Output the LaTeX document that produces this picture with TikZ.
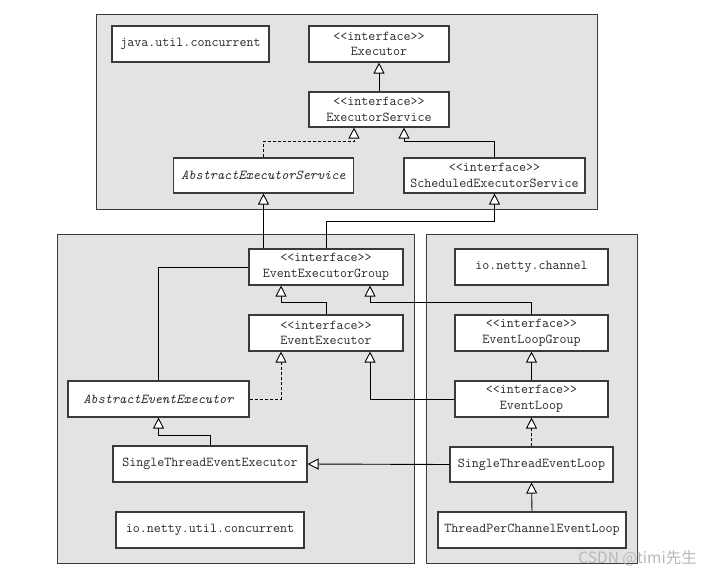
\documentclass[tikz,border=0pt]{standalone}
\usepackage{fontspec}
\newfontfamily\umlfont{Latin Modern Mono}
\newfontfamily\cjk{Noto Sans CJK SC}
\usetikzlibrary{arrows.meta,calc}
\definecolor{panelgray}{HTML}{E3E3E3}
\definecolor{boxline}{HTML}{3A3A3A}
\definecolor{txt}{HTML}{2A2A2A}
\tikzset{
  panel/.style={draw=boxline, line width=0.9pt, fill=panelgray},
  cls/.style={draw=boxline, line width=1.1pt, fill=white, inner sep=0pt,
    align=center, font=\umlfont\fontsize{13.6}{15.5}\selectfont, text=txt, minimum height=36pt},
  link/.style={line width=0.9pt, draw=black},
  inh/.style={link, -{Triangle[open, length=11pt, width=11pt, fill=white, line width=0.9pt]}},
  impl/.style={inh, dash pattern=on 3pt off 2pt},
}
\begin{document}
\begin{tikzpicture}[x=1pt, y=-1pt]
\useasboundingbox (0,0) rectangle (712,576);
% panels
\draw[panel] (96,14) rectangle (597,209);
\draw[panel] (57,234) rectangle (414,563);
\draw[panel] (426,234) rectangle (637,563);
% top panel
\node[cls, minimum width=157pt] (juc) at (190.5,44) {java.util.concurrent};
\node[cls, minimum width=140pt] (exec) at (379,44) {<<interface>>\\Executor};
\node[cls, minimum width=140pt, minimum height=35pt] (es) at (379,109.5) {<<interface>>\\ExecutorService};
\node[cls, minimum width=180pt, minimum height=35pt] (aes) at (263.5,175.5) {\itshape AbstractExecutorService};
\node[cls, minimum width=181pt, minimum height=35pt] (ses) at (494.5,175.5) {<<interface>>\\ScheduledExecutorService};
% left panel
\node[cls, minimum width=154pt] (eeg) at (326,267) {<<interface>>\\EventExecutorGroup};
\node[cls, minimum width=154pt] (ee) at (326,333) {<<interface>>\\EventExecutor};
\node[cls, minimum width=181pt] (aee) at (158.5,399) {\itshape AbstractEventExecutor};
\node[cls, minimum width=194pt] (stee) at (210,464) {SingleThreadEventExecutor};
\node[cls, minimum width=188pt] (inuc) at (210,530) {io.netty.util.concurrent};
% right panel
\node[cls, minimum width=153pt] (inc) at (531.5,267) {io.netty.channel};
\node[cls, minimum width=153pt] (elg) at (531.5,333) {<<interface>>\\EventLoopGroup};
\node[cls, minimum width=153pt] (el) at (531.5,399) {<<interface>>\\EventLoop};
\node[cls, minimum width=163pt, minimum height=35pt] (stel) at (531.5,464.5) {SingleThreadEventLoop};
\node[cls, minimum width=188pt] (tpcel) at (532,530) {ThreadPerChannelEventLoop};
% connectors
\draw[inh] (es.north) -- (exec.south);
\draw[impl] (aes.north) -- ++(0,-16) -| ([xshift=-25pt]es.south);
\draw[inh] (ses.north) -- ++(0,-16) -| ([xshift=25pt]es.south);
\draw[inh] (aes.south |- eeg.north) -- (aes.south);
\draw[inh] (eeg.north) -- ++(0,-27) -| (ses.south);
\draw[link] (eeg.west) -| (aee.north);
\draw[inh] (ee.north) -- ++(0,-12) -| ([xshift=-45pt]eeg.south);
\draw[inh] (elg.north) -- ++(0,-12) -| ([xshift=44pt]eeg.south);
\draw[impl] (aee.east) -| ([xshift=-45pt]ee.south);
\draw[inh] (el.west) -| ([xshift=44pt]ee.south);
\draw[inh] (el.north) -- (elg.south);
\draw[impl] (stel.north) -- (el.south);
\draw[inh] (tpcel.north) -- (stel.south);
\draw[inh] (stee.north) -- ++(0,-10) -| (aee.south);
\draw[inh] (stel.west) -- (stee.east);
% watermark
\node[anchor=east, inner sep=0pt, text=black!28, font=\cjk\fontsize{15.5}{15.5}\selectfont] (wm) at (697,558) {CSDN @timi先生};
\end{tikzpicture}
\end{document}
